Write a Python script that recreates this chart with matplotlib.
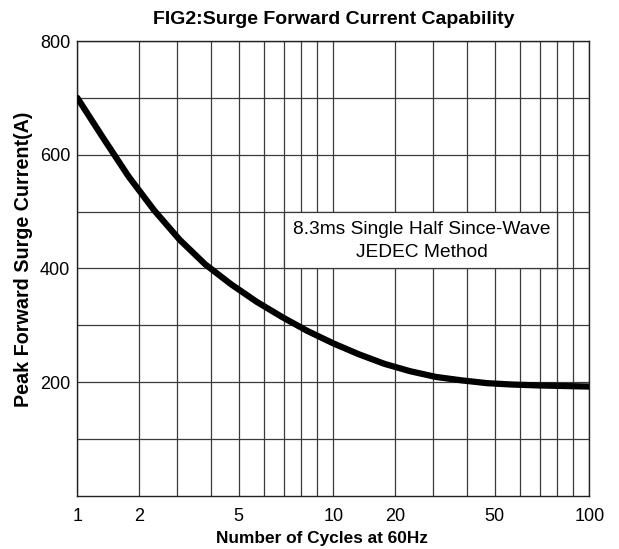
import numpy as np
import matplotlib
matplotlib.use("Agg")
import matplotlib.pyplot as plt
from matplotlib.patches import Rectangle

# curve
cycles = [1, 1.33, 1.78, 2.36, 3.08, 3.8, 4.7, 5.7, 6.9, 8.4, 10,
          13.3, 17.8, 23.6, 30.8, 38, 47, 57, 69, 84, 100]
current = [700, 631, 562, 502, 450, 407, 372, 341, 314, 290, 268,
           249, 232, 219, 209, 203, 198, 195.5, 194, 193, 192]

major_x = [1, 2, 5, 10, 20, 50, 100]
minor_x = [3, 4, 6, 7, 8, 9, 30, 40, 60, 70, 80, 90]
major_y = [200, 400, 600, 800]
minor_y = [100, 300, 500, 700]

# the printed chart paper is not a true log scale; grid positions within a decade
knot_log = np.log10(np.arange(1, 11))
knot_pos = np.array([0, .24, .388, .524, .63, .729, .809, .872, .935, 1.0])

def fwd(x):
    x = np.clip(np.asarray(x, float), 1e-9, None)
    lg = np.log10(x)
    d = np.floor(lg)
    return d + np.interp(lg - d, knot_log, knot_pos)

def inv(p):
    p = np.asarray(p, float)
    d = np.floor(p)
    return 10 ** (d + np.interp(p - d, knot_pos, knot_log))

plt.rcParams['font.family'] = ['Liberation Sans', 'DejaVu Sans']

fig = plt.figure(figsize=(6.19, 5.49), dpi=100)
ax = fig.add_axes([0.1249, 0.0971, 0.952 - 0.1249, 0.9253 - 0.0971])
ax.set_xscale('function', functions=(fwd, inv))
ax.set_xlim(1, 100)
ax.set_ylim(0, 800)

ax.set_xticks(major_x)
ax.set_xticklabels([str(v) for v in major_x])
ax.set_xticks(minor_x, minor=True)
ax.set_yticks(major_y)
ax.set_yticks(minor_y, minor=True)
ax.tick_params(which='both', length=0, labelsize=13)
ax.tick_params(axis='x', pad=9)
ax.tick_params(axis='y', pad=5)
ax.xaxis.set_minor_formatter(matplotlib.ticker.NullFormatter())
ax.grid(True, which='both', color='#3a3a3a', lw=0.9)
ax.set_axisbelow(True)
for s in ax.spines.values():
    s.set_color('#222222')
    s.set_linewidth(1.0)

ax.plot(cycles, current, color='black', lw=4.5, solid_capstyle='round',
        solid_joinstyle='round', zorder=4)

ax.add_patch(Rectangle((7, 400), 80 - 7, 100, facecolor='white', edgecolor='#3a3a3a',
                       lw=0.9, zorder=2))
ax.text(0.673, 0.560, '8.3ms Single Half Since-Wave\nJEDEC Method', transform=ax.transAxes,
        ha='center', va='center', fontsize=13.8, linespacing=1.45, zorder=3)

ax.set_title('FIG2:Surge Forward Current Capability', fontsize=14, fontweight='bold', pad=12)
ax.set_xlabel('Number of Cycles at 60Hz', fontsize=12.4, fontweight='bold')
ax.xaxis.set_label_coords(0.478, -0.078)
ax.set_ylabel('Peak Forward Surge Current(A)', fontsize=14.2, fontweight='bold')
ax.yaxis.set_label_coords(-0.087, 0.52)

fig.savefig('out.png', dpi=100)
